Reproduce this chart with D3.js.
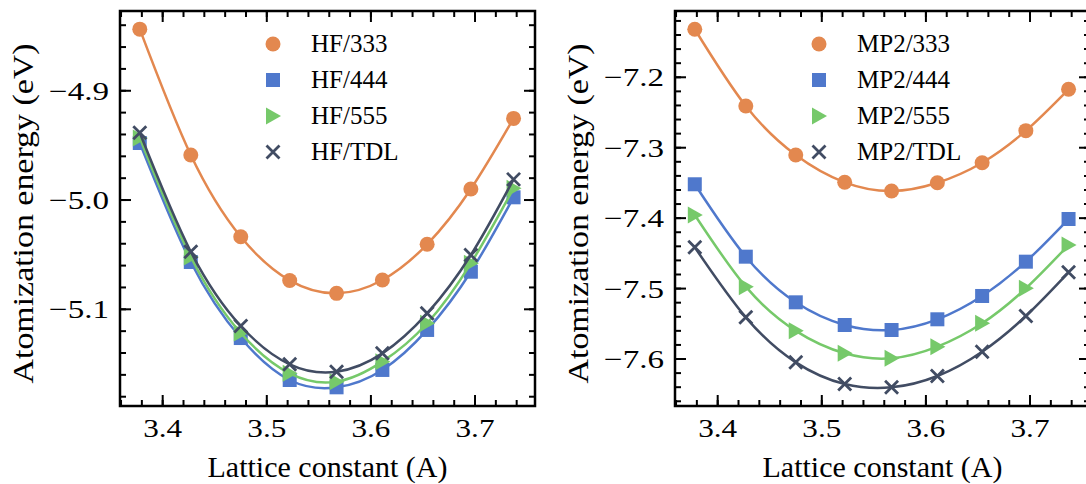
<!DOCTYPE html>
<html>
<head>
<meta charset="utf-8">
<script src="https://cdn.jsdelivr.net/npm/d3@7"></script>
<style>
  body { margin: 0; background: #fff; }
  svg text { font-family: "Liberation Serif", "Times New Roman", serif; fill: #000; }
</style>
</head>
<body>
<svg id="chart" width="1086" height="484"></svg>
<script>
// lattice constants (A) shared by both panels
const lattice = [3.378, 3.427, 3.475, 3.522, 3.567, 3.611, 3.654, 3.696, 3.737];

// HF atomization energies (eV)
const hf333 = [-4.8436, -4.9588, -5.0336, -5.0736, -5.0854, -5.0732, -5.0405, -4.9899, -4.9253];
const hf444 = [-4.9478, -5.0567, -5.1263, -5.1647, -5.1714, -5.1555, -5.1189, -5.0656, -4.9975];
const hf555 = [-4.9433, -5.0521, -5.1217, -5.1586, -5.1662, -5.1479, -5.1128, -5.0579, -4.9893];
const hfTDL = [-4.9384, -5.0473, -5.1153, -5.1503, -5.1571, -5.1403, -5.1037, -5.0503, -4.9811];

// MP2 atomization energies (eV)
const mp2333 = [-7.1318, -7.2407, -7.3103, -7.3491, -7.3614, -7.3497, -7.3213, -7.2758, -7.2170];
const mp2444 = [-7.3519, -7.4547, -7.5195, -7.5517, -7.5588, -7.5436, -7.5105, -7.4618, -7.4012];
const mp2555 = [-7.3955, -7.4973, -7.5600, -7.5919, -7.5990, -7.5825, -7.5493, -7.4996, -7.4381];
const mp2TDL = [-7.4414, -7.5408, -7.6047, -7.6355, -7.6402, -7.6241, -7.5896, -7.5389, -7.4769];

const hfLabels = ["HF/333", "HF/444", "HF/555", "HF/TDL"];
const mp2Labels = ["MP2/333", "MP2/444", "MP2/555", "MP2/TDL"];

// tick labels
const xTicks = [3.4, 3.5, 3.6, 3.7];
const hfYTicks = [-5.1, -5.0, -4.9];
const mp2YTicks = [-7.6, -7.5, -7.4, -7.3, -7.2];

const colors = ["#e3884f", "#4f78cc", "#76c96a", "#414c63"];
const markers = ["circle", "square", "triangle", "cross"];

const svg = d3.select("#chart");

function drawMarker(g, type, color, x, y) {
    if (type === "circle") {
        g.append("circle").attr("cx", x).attr("cy", y).attr("r", 7.5).attr("fill", color);
    } else if (type === "square") {
        g.append("rect").attr("x", x - 7).attr("y", y - 7).attr("width", 14).attr("height", 14).attr("fill", color);
    } else if (type === "triangle") {
        g.append("path").attr("d", `M${x + 8},${y} L${x - 7},${y - 8.5} L${x - 7},${y + 8.5} Z`).attr("fill", color);
    } else {
        const s = 6.5;
        g.append("path")
            .attr("d", `M${x - s},${y - s} L${x + s},${y + s} M${x - s},${y + s} L${x + s},${y - s}`)
            .attr("stroke", color).attr("stroke-width", 2.8).attr("fill", "none");
    }
}

function drawPanel(opt) {
    const left = opt.left, right = opt.left + 415, top = 11, bottom = 406;

    const x = d3.scaleLinear().domain([3.359, 3.7576]).range([left, right]);
    const y = d3.scaleLinear().domain(opt.yDomain).range([bottom, top]);

    const panel = svg.append("g");

    // ticks on all four sides, pointing inwards
    const xMinor = d3.range(3.36, 3.75, 0.02);
    const yMinor = d3.range(Math.ceil(opt.yDomain[0] * 50) / 50, opt.yDomain[1], 0.02);

    const ticks = panel.append("g").attr("stroke", "#000").attr("stroke-width", 2);
    [[xMinor, 6], [xTicks, 11]].forEach(([vals, len]) => {
        vals.forEach(v => {
            ticks.append("line").attr("x1", x(v)).attr("x2", x(v)).attr("y1", bottom).attr("y2", bottom - len);
            ticks.append("line").attr("x1", x(v)).attr("x2", x(v)).attr("y1", top).attr("y2", top + len);
        });
    });
    [[yMinor, 6], [opt.yTicks, 11]].forEach(([vals, len]) => {
        vals.forEach(v => {
            ticks.append("line").attr("y1", y(v)).attr("y2", y(v)).attr("x1", left).attr("x2", left + len);
            ticks.append("line").attr("y1", y(v)).attr("y2", y(v)).attr("x1", right).attr("x2", right - len);
        });
    });

    // tick labels
    const fmt = d3.format(".1f");
    panel.selectAll(null).data(xTicks).enter().append("text")
        .attr("x", d => x(d)).attr("y", bottom + 31)
        .attr("text-anchor", "middle").attr("font-size", 26)
        .attr("textLength", 39).attr("lengthAdjust", "spacingAndGlyphs")
        .text(d => fmt(d));
    panel.selectAll(null).data(opt.yTicks).enter().append("text")
        .attr("x", left - 11).attr("y", d => y(d) + 9)
        .attr("text-anchor", "end").attr("font-size", 26)
        .attr("textLength", 60).attr("lengthAdjust", "spacingAndGlyphs")
        .text(d => fmt(d));

    // axis labels
    panel.append("text")
        .attr("x", (left + right) / 2).attr("y", 477)
        .attr("text-anchor", "middle").attr("font-size", 30)
        .text("Lattice constant (A)");
    panel.append("text")
        .attr("transform", `translate(${left - 87},${(top + bottom) / 2 + 5}) rotate(-90)`)
        .attr("text-anchor", "middle").attr("font-size", 30)
        .attr("textLength", 340).attr("lengthAdjust", "spacingAndGlyphs")
        .text("Atomization energy (eV)");

    // curves and markers
    const line = d3.line().x(d => x(d[0])).y(d => y(d[1])).curve(d3.curveNatural);
    opt.series.forEach((vals, i) => {
        const pts = lattice.map((a, k) => [a, vals[k]]);
        panel.append("path").datum(pts)
            .attr("d", line).attr("fill", "none")
            .attr("stroke", colors[i]).attr("stroke-width", 2.5);
        const mg = panel.append("g");
        pts.forEach(p => drawMarker(mg, markers[i], colors[i], x(p[0]), y(p[1])));
    });

    // legend
    const legend = panel.append("g");
    opt.labels.forEach((lab, i) => {
        const ly = 44 + i * 36;
        drawMarker(legend, markers[i], colors[i], opt.legendX, ly);
        legend.append("text").attr("x", opt.legendX + 38).attr("y", ly + 8)
            .attr("font-size", 25).text(lab);
    });

    // frame
    panel.append("rect")
        .attr("x", left).attr("y", top).attr("width", right - left).attr("height", bottom - top)
        .attr("fill", "none").attr("stroke", "#000").attr("stroke-width", 2.5);
}

drawPanel({
    left: 120, yDomain: [-5.1885, -4.827], yTicks: hfYTicks,
    series: [hf333, hf444, hf555, hfTDL], labels: hfLabels, legendX: 273
});
drawPanel({
    left: 675, yDomain: [-7.6667, -7.1059], yTicks: mp2YTicks,
    series: [mp2333, mp2444, mp2555, mp2TDL], labels: mp2Labels, legendX: 819
});
</script>
</body>
</html>
